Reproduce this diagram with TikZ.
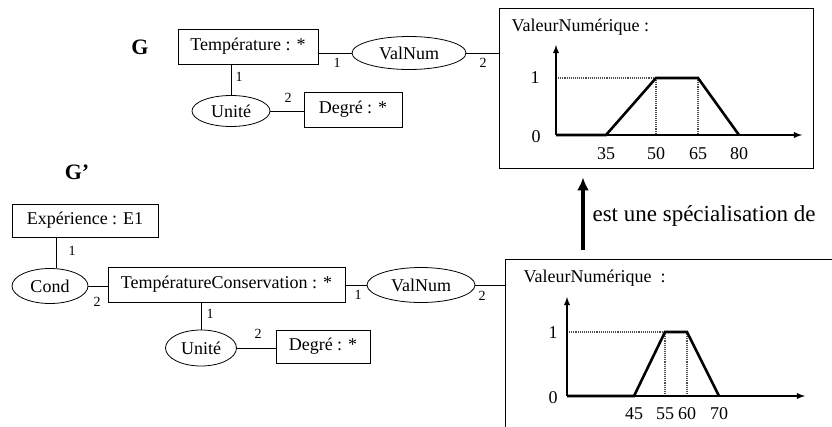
\documentclass[tikz,border=0pt]{standalone}
\usepackage{fontspec}
\setmainfont{Liberation Serif}
\usetikzlibrary{arrows,arrows.meta,shapes.geometric}
\tikzset{
  concept/.style={draw,rectangle,inner sep=0pt,line width=0.8pt,font=\fontsize{18}{20}\selectfont},
  relation/.style={draw,ellipse,inner sep=0pt,line width=0.8pt,font=\fontsize{18}{20}\selectfont},
  link/.style={line width=0.8pt},
  txt/.style={font=\fontsize{18}{20}\selectfont},
  idx/.style={font=\fontsize{14}{16}\selectfont},
  axis/.style={line width=1.8pt,-latex},
  curve/.style={line width=2.6pt,line join=miter},
  guide/.style={line width=1.1pt,densely dotted,black!70},
}
\begin{document}
\begin{tikzpicture}[x=1pt,y=-1pt]
   \path[use as bounding box,clip] (0,0) rectangle (832,426);
   % graphe G
   \node[font=\fontsize{22}{24}\selectfont\bfseries] (g) at (140,47) {G};
   \node[concept,minimum width=140pt,minimum height=35pt] (temp) at (248,46.5) {Température : *};
   \node[relation,minimum width=114pt,minimum height=33pt] (valnum) at (409,53) {ValNum};
   \node[relation,minimum width=78pt,minimum height=31pt] (unite) at (231,111) {Unité};
   \node[concept,minimum width=98pt,minimum height=35pt] (degre) at (353,109.5) {Degré : *};
   \node[draw,line width=0.8pt,minimum width=314pt,minimum height=160pt] (num1) at (656,88) {};
   \draw[link] (valnum.west) -- (valnum.west -| temp.east);
   \draw[link] (valnum.east) -- (valnum.east -| num1.west);
   \draw[link] (unite.north) -- (unite.north |- temp.south);
   \draw[link] (unite.east) -- (unite.east -| degre.west);
   \node[idx] (i1) at (337,63) {1};
   \node[idx] (i2) at (483,63) {2};
   \node[idx] (i3) at (239,77) {1};
   \node[idx] (i4) at (288,98) {2};
   % fonction de G
   \node[txt,anchor=west] (vn1) at (508,27) {ValeurNumérique :};
   \draw[guide] (556,78) -- (656,78);
   \draw[guide] (656,78) -- (656,135);
   \draw[guide] (698,78) -- (698,135);
   \draw[axis] (556,135) -- (556,45);
   \draw[axis] (556,135) -- (802,135);
   \draw[curve] (556,135) -- (606,135) -- (656,78) -- (698,78) -- (739,135);
   \node[txt] (y1) at (535,78) {1};
   \node[txt] (y0) at (536,137) {0};
   \node[txt] (x35) at (606,154) {35};
   \node[txt] (x50) at (656,154) {50};
   \node[txt] (x65) at (698,154) {65};
   \node[txt] (x80) at (739,154) {80};
   % graphe G'
   \node[font=\fontsize{22}{24}\selectfont\bfseries] (gp) at (77,172) {G’};
   \node[concept,minimum width=146pt,minimum height=33pt] (exp) at (85,220.5) {Expérience : E1};
   \node[relation,minimum width=76pt,minimum height=35pt] (cond) at (50,286) {Cond};
   \node[concept,minimum width=237pt,minimum height=35pt] (tc) at (226.5,284.5) {TempératureConservation : *};
   \node[relation,minimum width=108pt,minimum height=35pt] (valnum2) at (421,285) {ValNum};
   \node[relation,minimum width=71pt,minimum height=36pt] (unite2) at (201,348) {Unité};
   \node[concept,minimum width=94pt,minimum height=33pt] (degre2) at (323,346.5) {Degré : *};
   \node[draw,line width=0.8pt,anchor=north west,minimum width=360pt,minimum height=190pt] (num2) at (505,259) {};
   \draw[link] (cond.70) -- (cond.70 |- exp.south);
   \draw[link] (cond.east) -- (cond.east -| tc.west);
   \draw[link] (valnum2.west) -- (valnum2.west -| tc.east);
   \draw[link] (valnum2.east) -- (valnum2.east -| num2.west);
   \draw[link] (unite2.north) -- (unite2.north |- tc.south);
   \draw[link] (unite2.east) -- (unite2.east -| degre2.west);
   \node[idx] (j1) at (72,251) {1};
   \node[idx] (j2) at (97,302) {2};
   \node[idx] (j3) at (358,295) {1};
   \node[idx] (j4) at (482,296) {2};
   \node[idx] (j5) at (210,314) {1};
   \node[idx] (j6) at (258,334) {2};
   % fonction de G'
   \node[txt,anchor=west] (vn2) at (520,278) {ValeurNumérique~ :};
   \draw[guide] (567,332) -- (665,332);
   \draw[guide] (665,332) -- (665,396);
   \draw[guide] (687,332) -- (687,396);
   \draw[axis] (567,396) -- (567,297);
   \draw[axis] (567,396) -- (805,396);
   \draw[curve] (567,396) -- (634,396) -- (665,332) -- (687,332) -- (719,396);
   \node[txt] (z1) at (553,333) {1};
   \node[txt] (z0) at (553,398) {0};
   \node[txt] (x45) at (634,414) {45};
   \node[txt] (x55) at (665,414) {55};
   \node[txt] (x60) at (687,414) {60};
   \node[txt] (x70) at (719,414) {70};
   % specialisation
   \coordinate (spec) at (583,200);
   \draw[line width=4pt,-{Latex[length=13pt,width=12pt]},shorten <=9pt,shorten >=9pt] (num2.north -| spec) -- (num1.south -| spec);
   \node[anchor=west,font=\fontsize{23}{26}\selectfont] (spectxt) at (589,216) {est une spécialisation de};
\end{tikzpicture}
\end{document}
